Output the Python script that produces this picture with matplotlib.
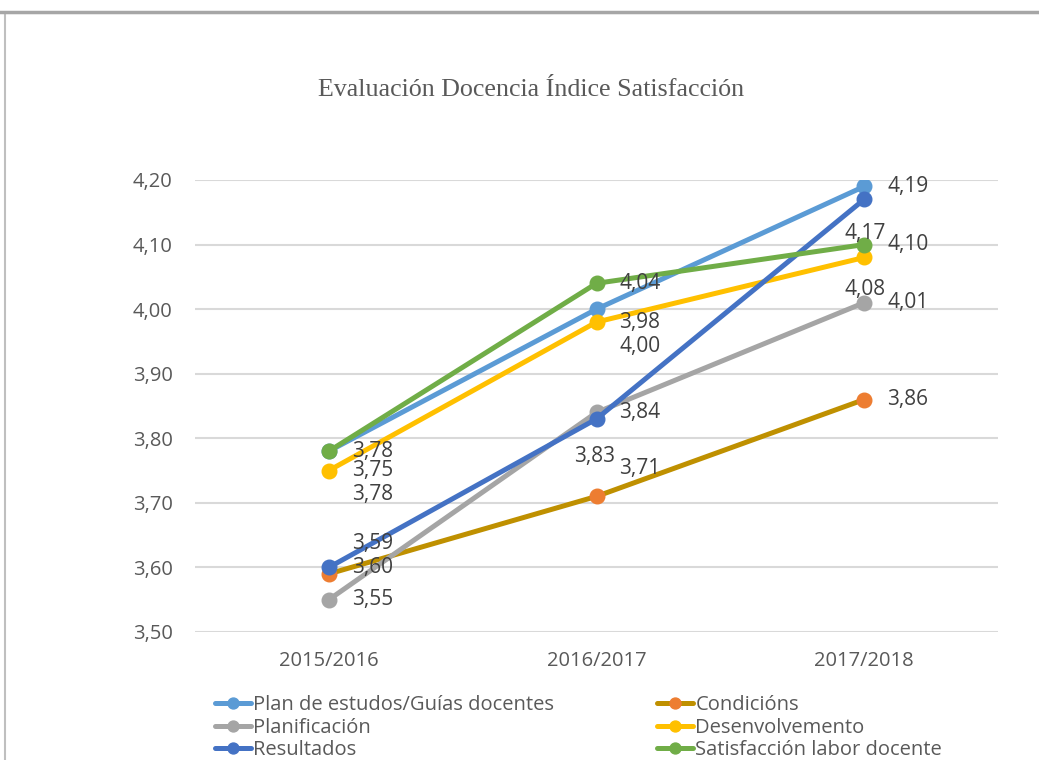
import matplotlib.pyplot as plt
from matplotlib.patches import Rectangle

years = ["2015/2016", "2016/2017", "2017/2018"]
series_names = ["Plan de estudos/Guías docentes", "Condicións", "Planificación",
                "Desenvolvemento", "Resultados", "Satisfacción labor docente"]
plan = [3.78, 4.00, 4.19]
condicions = [3.59, 3.71, 3.86]
planificacion = [3.55, 3.84, 4.01]
desenvolvemento = [3.75, 3.98, 4.08]
resultados = [3.60, 3.83, 4.17]
satisfaccion = [3.78, 4.04, 4.10]
yticks = [3.5, 3.6, 3.7, 3.8, 3.9, 4.0, 4.1, 4.2]

# styles: line colour, marker colour, label offsets in px (dx right, dy down)
styles = {
    "plan": ("#5B9BD5", "#5B9BD5", [(23, 43), (23, 37), (23, 0)]),
    "cond": ("#BF9000", "#ED7D31", [(23, -30), (23, -28), (23, 0)]),
    "planif": ("#A5A5A5", "#A5A5A5", [(23, 0), (23, 0), (23, 0)]),
    "desen": ("#FFC000", "#FFC000", [(23, 0), (23, 0), (-20, 32)]),
    "result": ("#4472C4", "#4472C4", [(23, 0), (-22, 38), (-20, 34)]),
    "satis": ("#70AD47", "#70AD47", [(23, 0), (23, 0), (23, 0)]),
}
data = [("plan", plan), ("cond", condicions), ("planif", planificacion),
        ("desen", desenvolvemento), ("result", resultados), ("satis", satisfaccion)]

FONT = "Open Sans"

fig = plt.figure(figsize=(10.39, 7.6), dpi=100)
fig.patches.append(Rectangle((5 / 1039, -0.01), 1.1, 1 - 13 / 760 + 0.01, transform=fig.transFigure,
                             fill=False, edgecolor="#BFBFBF", linewidth=1.5))
fig.add_artist(plt.Line2D([0, 1], [1 - 12 / 760, 1 - 12 / 760], color="#A6A6A6", lw=2.5,
                          transform=fig.transFigure))

ax = fig.add_axes([195 / 1039, 1 - 632 / 760, (998 - 195) / 1039, (632 - 180) / 760])
x = list(range(len(years)))

handles = {}
for i, (key, vals) in enumerate(data):
    lc, mc, offs = styles[key]
    ln, = ax.plot(x, vals, color=lc, lw=3.6, marker="o", markersize=10.5,
                  markerfacecolor=mc, markeredgecolor=mc, zorder=3 + i,
                  solid_capstyle="round")
    handles[key] = ln
    for xi, v, (dx, dy) in zip(x, vals, offs):
        ax.annotate(f"{v:.2f}".replace(".", ","), (xi, v), xytext=(dx * 0.72, -dy * 0.72),
                    textcoords="offset points", ha="left", va="center",
                    fontsize=15, color="#404040", family=FONT, zorder=10)

ax.set_xlim(-0.5, 2.5)
ax.set_ylim(3.5, 4.2)
ax.set_yticks(yticks)
ax.set_yticklabels([f"{t:.2f}".replace(".", ",") for t in yticks], family=FONT,
                   fontsize=14.5, color="#595959")
ax.set_xticks(x)
ax.set_xticklabels(years, family=FONT, fontsize=14.5, color="#595959")
ax.tick_params(axis="y", length=0, pad=16)
ax.tick_params(axis="x", length=0, pad=14)
ax.grid(axis="y", color="#D9D9D9", lw=1.5)
ax.set_axisbelow(True)
for s in ax.spines.values():
    s.set_visible(False)

fig.text(531 / 1039, 1 - 90 / 760, "Evaluación Docencia Índice Satisfacción", ha="center",
         va="center", family="Liberation Serif", fontsize=18.7, color="#595959")

# column-major order so rows read: plan | cond, planif | desen, result | satis
leg_order = ["plan", "planif", "result", "cond", "desen", "satis"]
leg_labels = [series_names[[k for k, _ in data].index(k)] for k in leg_order]
leg = fig.legend([handles[k] for k in leg_order], leg_labels, ncol=2,
                 loc="upper left", bbox_to_anchor=(205 / 1039, 1 - 685 / 760),
                 frameon=False, prop={"family": FONT, "size": 14.5},
                 handlelength=1.8, handletextpad=0.1, columnspacing=5.1,
                 labelspacing=0.13, borderpad=0, markerscale=0.75)
for t in leg.get_texts():
    t.set_color("#595959")

fig.savefig("out.png", dpi=100)
